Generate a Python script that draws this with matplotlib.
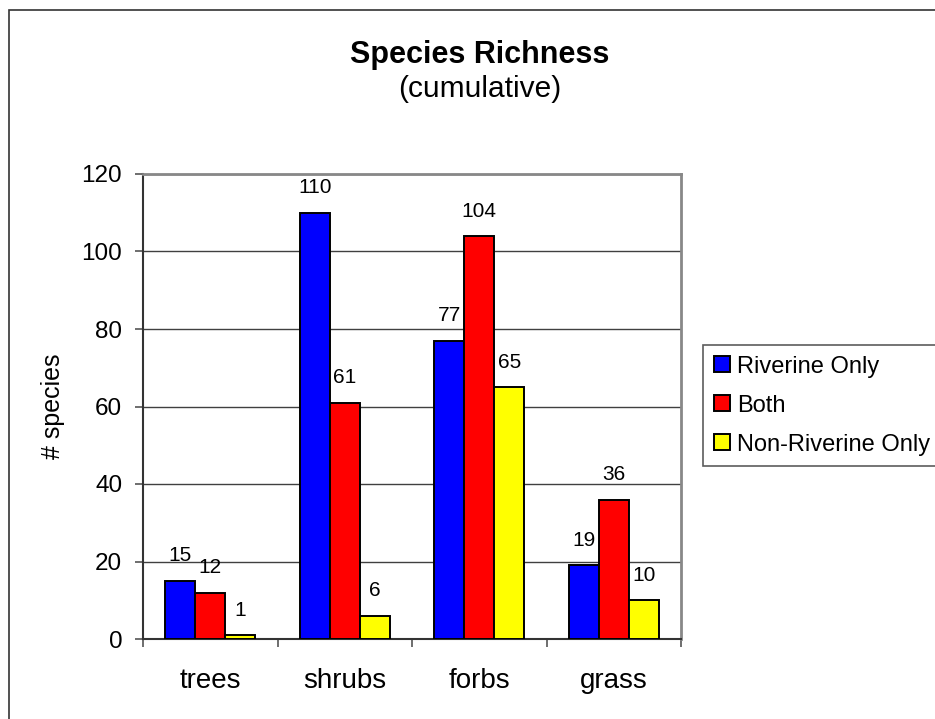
import matplotlib
matplotlib.use('Agg')
import matplotlib.pyplot as plt
from matplotlib.patches import Rectangle
import numpy as np

plt.rcParams['font.family'] = ['Liberation Sans', 'DejaVu Sans']

categories = ['trees', 'shrubs', 'forbs', 'grass']
riverine_only = [15, 110, 77, 19]
both = [12, 61, 104, 36]
non_riverine_only = [1, 6, 65, 10]
series_names = ['Riverine Only', 'Both', 'Non-Riverine Only']
series_colors = ['#0000FF', '#FF0000', '#FFFF00']
y_ticks = [0, 20, 40, 60, 80, 100, 120]

W, H = 935, 719
fig = plt.figure(figsize=(W / 100, H / 100), dpi=100)
fig.patch.set_facecolor('white')

# outer chart border (runs off the right and bottom edges)
fig.patches.append(Rectangle((9 / W, -0.2), 1.2, 1.2 - 10 / H,
                             transform=fig.transFigure, fill=False,
                             edgecolor='#333333', linewidth=1.2))

ax = fig.add_axes([143 / W, 1 - 639 / H, 538 / W, 465 / H])

x = np.arange(len(categories))
bw = 1 / 4.5
all_series = [riverine_only, both, non_riverine_only]
for i, (vals, name, col) in enumerate(zip(all_series, series_names, series_colors)):
    pos = x + (i - 1) * bw
    ax.bar(pos, vals, width=bw, color=col, edgecolor='black', linewidth=1.4,
           label=name, zorder=3)
    for px, v in zip(pos, vals):
        ax.annotate(str(v), (px, v), xytext=(0, 14), textcoords='offset points',
                    ha='center', va='baseline', fontsize=15, zorder=4)

ax.set_xlim(-0.5, 3.5)
ax.set_ylim(0, 120)
ax.set_yticks(y_ticks)
ax.yaxis.grid(True, color='#404040', linewidth=1.0, zorder=0)
ax.set_axisbelow(True)

# category boundaries carry the ticks, names sit in between
ax.set_xticks(np.arange(-0.5, 4, 1))
ax.set_xticklabels([])
ax.set_xticks(x, minor=True)
ax.set_xticklabels(categories, minor=True, fontsize=20)
ax.tick_params(axis='x', which='minor', length=0, pad=21)
ax.tick_params(axis='x', which='major', length=6, width=1.2, color='#555555')
ax.tick_params(axis='y', length=6, width=1.2, color='#555555', pad=9,
               labelsize=17.5)

for side in ['left', 'bottom']:
    ax.spines[side].set_color('#333333')
    ax.spines[side].set_linewidth(1.5)
for side in ['top', 'right']:
    ax.spines[side].set_color('#888888')
    ax.spines[side].set_linewidth(2.0)

ax.set_ylabel('# species', fontsize=18, va='center')
ax.yaxis.set_label_coords(-0.167, 0.5)

fig.text(480 / W, 1 - 63 / H, 'Species Richness', ha='center', va='baseline',
         fontsize=22, fontweight='bold')
fig.text(480 / W, 1 - 97 / H, '(cumulative)', ha='center', va='baseline',
         fontsize=21.5)

leg = fig.legend(loc='upper left', bbox_to_anchor=(703 / W, 1 - 345 / H),
                 fontsize=17, frameon=True, fancybox=False, shadow=False,
                 handlelength=0.68, handleheight=0.68, handletextpad=0.3,
                 labelspacing=0.72, borderpad=0.45, borderaxespad=0)
leg.get_frame().set_edgecolor('#333333')
leg.get_frame().set_linewidth(1.2)

fig.savefig('out.png', dpi=100, facecolor='white')
